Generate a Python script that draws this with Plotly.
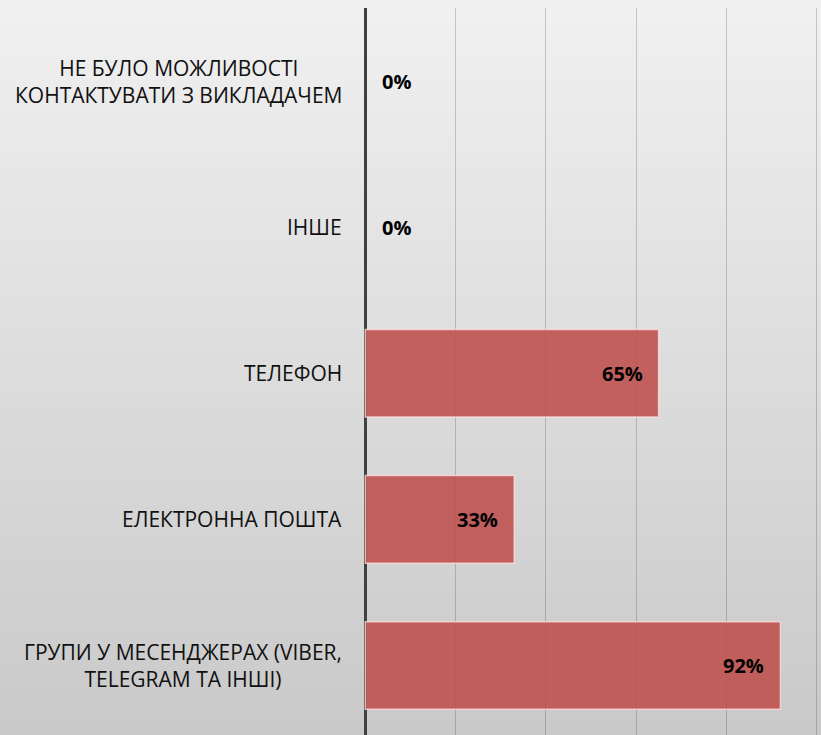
import plotly.graph_objects as go

# ---- data (bottom to top) ----
categories = [
    "ГРУПИ У МЕСЕНДЖЕРАХ (VIBER,<br>TELEGRAM ТА ІНШІ)",
    "ЕЛЕКТРОННА ПОШТА",
    "ТЕЛЕФОН",
    "ІНШЕ",
    "НЕ БУЛО МОЖЛИВОСТІ<br>КОНТАКТУВАТИ З ВИКЛАДАЧЕМ",
]
values = [92, 33, 65, 0, 0]
value_labels = ["92%", "33%", "65%", "0%", "0%"]

W, H = 821, 735
fig = go.Figure()

fig.add_trace(go.Bar(
    y=list(range(len(categories))),
    x=values,
    orientation="h",
    width=0.6,
    marker=dict(color="rgba(190,78,76,0.88)",
                line=dict(color="rgba(255,225,225,0.75)",
                          width=[1.5 if v > 0 else 0 for v in values])),
    hoverinfo="skip",
))

# background gradient bands (light top -> darker bottom)
shapes = []
n = 70
top, bot = 241, 200
for i in range(n):
    y1 = 1.02 - i * (1.05 / n)
    y0 = y1 - 1.05 / n - 0.001
    g = round(top + (bot - top) * (i + 0.5) / n)
    shapes.append(dict(type="rect", xref="paper", yref="paper",
                       x0=-1, x1=1.1, y0=y0, y1=y1, layer="below",
                       line=dict(width=0), fillcolor=f"rgb({g},{g},{g})"))

annotations = []
for i, (cat, v, lab) in enumerate(zip(categories, values, value_labels)):
    annotations.append(dict(
        x=0, xref="paper", y=i, yref="y", text=cat, showarrow=False,
        xanchor="right", yanchor="middle", align="center", xshift=-20,
        font=dict(family="Open Sans", size=21, color="#111111")))
    if v > 0:
        annotations.append(dict(
            x=v, xref="x", y=i, yref="y", text=f"<b>{lab}</b>", showarrow=False,
            xanchor="right", yanchor="middle", xshift=-14,
            font=dict(family="Open Sans", size=20, color="#000000")))
    else:
        annotations.append(dict(
            x=v, xref="x", y=i, yref="y", text=f"<b>{lab}</b>", showarrow=False,
            xanchor="left", yanchor="middle", xshift=15,
            font=dict(family="Open Sans", size=20, color="#000000")))

fig.update_layout(
    width=W, height=H,
    margin=dict(l=364, r=0, t=8, b=0),
    paper_bgcolor="rgb(225,225,225)",
    plot_bgcolor="rgba(0,0,0,0)",
    showlegend=False,
    shapes=shapes,
    annotations=annotations,
    xaxis=dict(range=[-0.3, 101], dtick=20, tick0=0, showticklabels=False,
               showgrid=True, gridcolor="rgba(0,0,0,0.18)", gridwidth=1,
               zeroline=True, zerolinecolor="#404040", zerolinewidth=3,
               showline=False, fixedrange=True),
    yaxis=dict(range=[-0.476, 4.5], showticklabels=False, showgrid=False,
               zeroline=False, showline=False, fixedrange=True),
)

fig.write_html(
    "out.html",
    config={"displayModeBar": False},
    post_script="document.body.style.margin='0';document.body.style.padding='0';",
)
